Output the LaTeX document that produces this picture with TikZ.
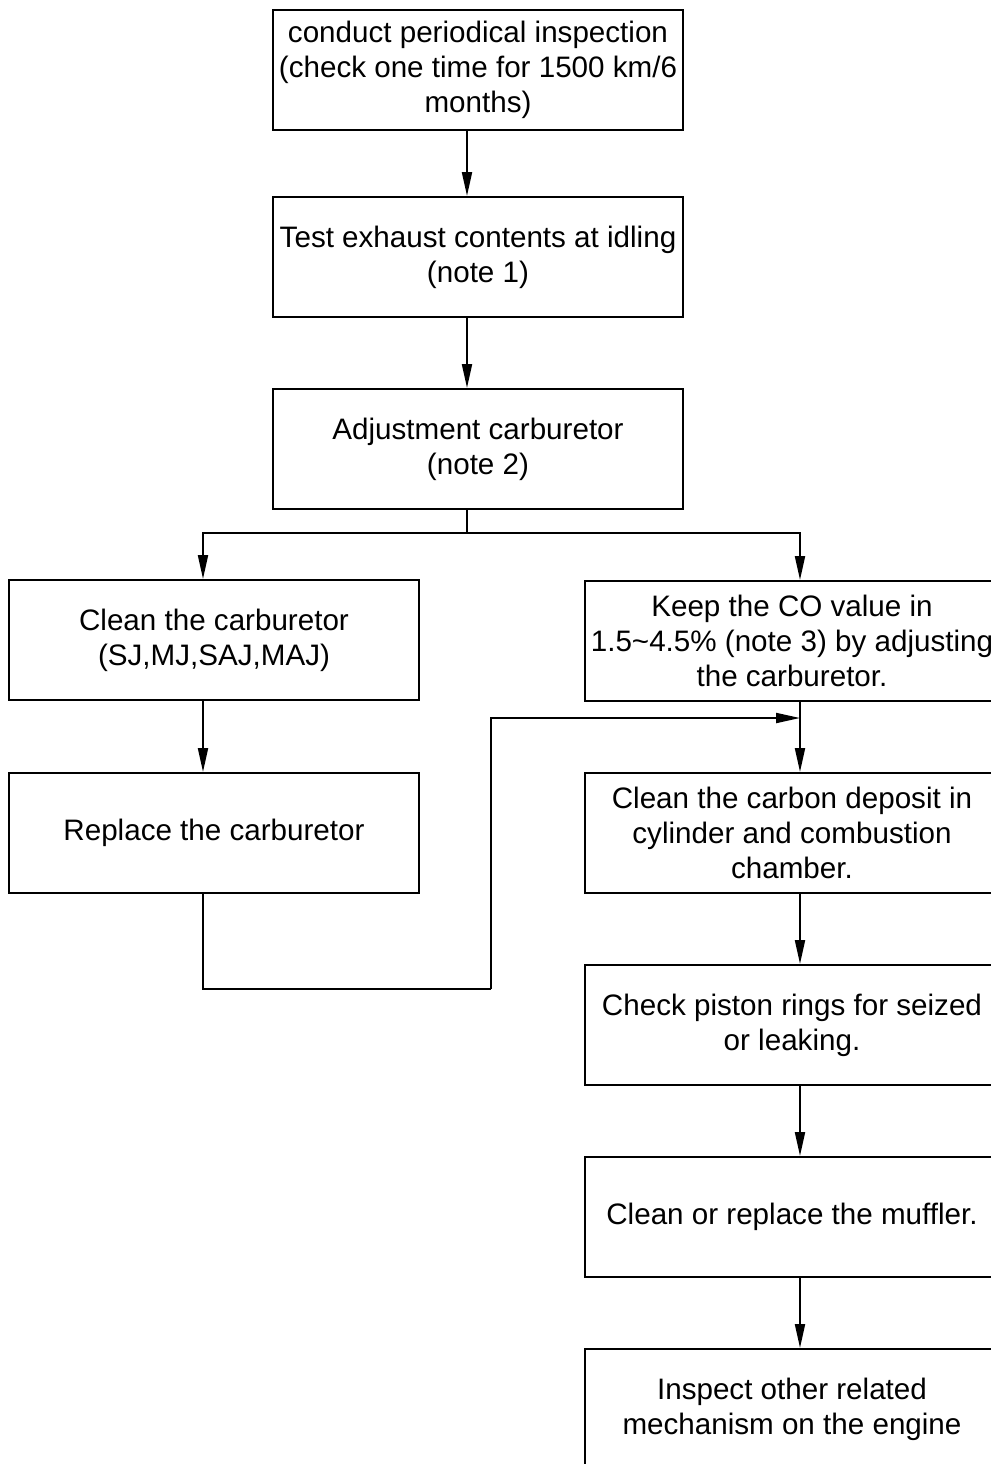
\documentclass[tikz,border=0pt]{standalone}
\usepackage{fontspec}
\setmainfont{Liberation Sans}
\usetikzlibrary{arrows.meta}

\begin{document}
\begin{tikzpicture}[x = 0.5pt, y = -0.5pt]

\tikzset{
stage/.style = {rectangle, draw, line width = 1pt, minimum width = 205pt, minimum height = 60pt, align = center, inner sep = 0pt, font = \fontsize{14.8}{17.5}\selectfont},
flow/.style = {-{Triangle[length = 12pt, width = 5pt]}, line width = 1pt},
wire/.style = {line width = 1pt},
	}

\useasboundingbox (0, 0) rectangle (991, 1464);
\clip (0, 0) rectangle (991, 1464);

% Columns the connectors run along
\coordinate (spine) at (467, 0);
\coordinate (lcol) at (203, 0);
\coordinate (rcol) at (800, 0);

% Main line
\node at (478, 70) [stage] (insp) {conduct periodical inspection\\(check one time for 1500 km/6\\months)};
\node at (478, 257) [stage] (test) {Test exhaust contents at idling\\(note 1)};
\node at (478, 449) [stage] (adjust) {Adjustment carburetor\\(note 2)};

% Left branch
\node at (214, 640) [stage] (clean) {Clean the carburetor\\(SJ,MJ,SAJ,MAJ)};
\node at (214, 833) [stage] (replace) {Replace the carburetor};

% Right branch
\node at (792, 641) [stage, minimum width = 207pt] (keep) {Keep the CO value in\\1.5\textasciitilde4.5\% (note 3) by adjusting\\the carburetor.};
\node at (792, 833) [stage, minimum width = 207pt] (carbon) {Clean the carbon deposit in\\cylinder and combustion\\chamber.};
\node at (792, 1025) [stage, minimum width = 207pt] (piston) {Check piston rings for seized\\or leaking.};
\node at (792, 1217) [stage, minimum width = 207pt] (muffler) {Clean or replace the muffler.};
\node at (792, 1409) [stage, minimum width = 207pt] (engine) {Inspect other related\\mechanism on the engine};

\coordinate (split) at (467, 533);
\coordinate (jog) at (491, 989);
\coordinate (join) at (800, 718);

% Connectors
\path [flow] (insp.south -| spine) edge [] (test.north -| spine);
\path [flow] (test.south -| spine) edge [] (adjust.north -| spine);
\draw [wire] (adjust.south -| spine) -- (split);
\draw [flow] (split) -| (clean.north -| lcol);
\draw [flow] (split) -| (keep.north -| rcol);
\path [flow] (clean.south -| lcol) edge [] (replace.north -| lcol);
\draw [wire] (replace.south -| lcol) |- (jog);
\draw [flow] (jog) |- (join);
\path [flow] (keep.south -| rcol) edge [] (carbon.north -| rcol);
\path [flow] (carbon.south -| rcol) edge [] (piston.north -| rcol);
\path [flow] (piston.south -| rcol) edge [] (muffler.north -| rcol);
\path [flow] (muffler.south -| rcol) edge [] (engine.north -| rcol);

\end{tikzpicture}
\end{document}
